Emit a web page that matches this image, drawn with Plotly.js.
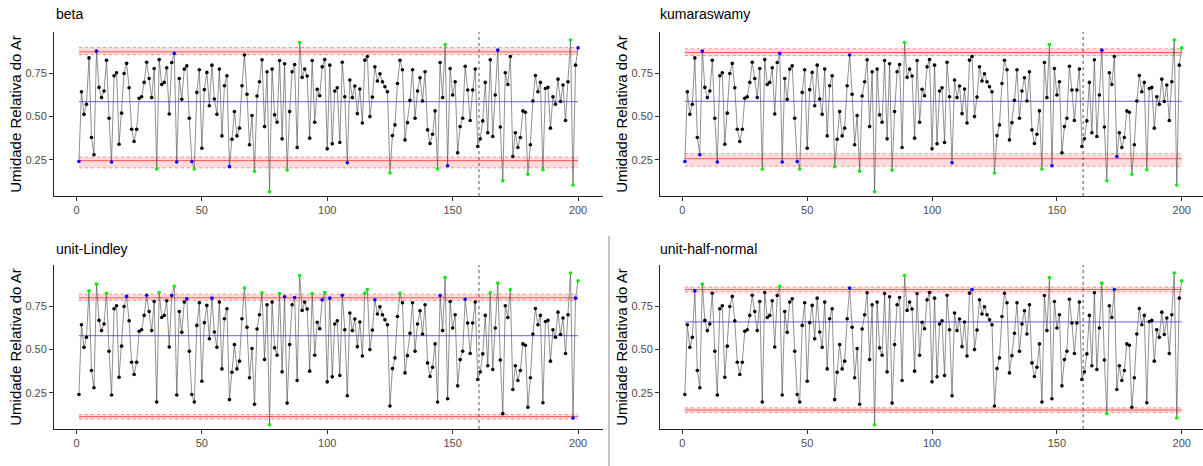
<!DOCTYPE html>
<html>
<head>
<meta charset="utf-8">
<script src="https://cdn.plot.ly/plotly-3.0.1.min.js"></script>
<style>html,body{margin:0;padding:0;background:#fff;}#chart{width:1203px;height:466px;}</style>
</head>
<body>
<div id="chart"></div>
<script>
// ---- data ----
const humidity = [
0.24,0.644,0.513,0.571,0.84,0.379,0.279,0.879,0.669,0.61,
0.648,0.826,0.49,0.237,0.737,0.754,0.34,0.52,0.75,0.808,
0.667,0.427,0.356,0.427,0.606,0.615,0.698,0.815,0.721,0.61,
0.779,0.196,0.83,0.686,0.698,0.783,0.515,0.813,0.866,0.237,
0.721,0.6,0.775,0.794,0.49,0.24,0.196,0.64,0.771,0.317,
0.656,0.756,0.563,0.798,0.602,0.513,0.775,0.388,0.679,0.737,
0.21,0.369,0.529,0.388,0.433,0.679,0.857,0.629,0.337,0.506,
0.183,0.619,0.702,0.829,0.442,0.76,0.065,0.775,0.51,0.467,
0.825,0.371,0.806,0.19,0.529,0.76,0.802,0.321,0.929,0.727,
0.775,0.735,0.375,0.825,0.467,0.658,0.621,0.788,0.83,0.313,
0.798,0.342,0.648,0.667,0.35,0.815,0.615,0.233,0.712,0.61,
0.677,0.517,0.66,0.463,0.827,0.848,0.5,0.613,0.788,0.706,
0.748,0.702,0.673,0.644,0.173,0.39,0.452,0.692,0.826,0.771,
0.365,0.465,0.594,0.771,0.49,0.648,0.725,0.59,0.76,0.423,
0.344,0.398,0.533,0.196,0.813,0.61,0.917,0.215,0.779,0.625,
0.702,0.29,0.442,0.49,0.792,0.654,0.477,0.654,0.775,0.327,
0.371,0.475,0.698,0.406,0.829,0.385,0.625,0.885,0.44,0.129,
0.754,0.686,0.848,0.269,0.406,0.321,0.379,0.533,0.525,0.166,
0.337,0.59,0.738,0.644,0.698,0.192,0.663,0.669,0.433,0.615,
0.571,0.717,0.587,0.683,0.477,0.702,0.944,0.104,0.798,0.898
];
const panelNames = ["beta", "kumaraswamy", "unit-Lindley", "unit-half-normal"];
const centerLine = [0.587, 0.588, 0.581, 0.66];
const upperLimit = [0.875, 0.871, 0.80, 0.848];
const upperBandLow = [0.859, 0.853, 0.785, 0.834];
const upperBandHigh = [0.900, 0.893, 0.821, 0.862];
const lowerLimit = [0.245, 0.256, 0.112, 0.150];
const lowerBandLow = [0.203, 0.212, 0.097, 0.135];
const lowerBandHigh = [0.266, 0.285, 0.124, 0.163];
const splitPoint = 160.5;
const xTicks = [0, 50, 100, 150, 200];
const yTicks = [0.25, 0.50, 0.75];
const yTitle = "Umidade Relativa do Ar";

// ---- build ----
const obs = humidity.map((_, i) => i + 1);
const W = 1203, H = 466;
const xDomains = [[54 / W, 603 / W], [660 / W, 1], [54 / W, 603 / W], [660 / W, 1]];
const xRanges = [[-8.95, 209.95], [-8.95, 208.5], [-8.95, 209.95], [-8.95, 208.5]];
const yDomains = [[1 - 196 / H, 1 - 32 / H], [1 - 196 / H, 1 - 32 / H], [1 - 429 / H, 1 - 265 / H], [1 - 429 / H, 1 - 265 / H]];
const titlePos = [[54, 14], [658, 14], [54, 249], [658, 249]];

const traces = [];
const shapes = [];
const annotations = [];
const layout = {
  width: W, height: H,
  margin: {l: 0, r: 0, t: 0, b: 0},
  paper_bgcolor: "#fff", plot_bgcolor: "#fff",
  showlegend: false,
  font: {family: "Liberation Sans, Arial, sans-serif", color: "#000"}
};

function pointColor(v, p) {
  if (v > upperBandHigh[p] || v < lowerBandLow[p]) return "#00ee00";
  if ((v >= upperBandLow[p] && v <= upperBandHigh[p]) || (v >= lowerBandLow[p] && v <= lowerBandHigh[p])) return "#0000ff";
  return "#000000";
}

panelNames.forEach((name, p) => {
  const sfx = p === 0 ? "" : String(p + 1);
  const xa = "x" + sfx, ya = "y" + sfx;
  const x0 = obs[0], x1 = obs[obs.length - 1];

  // bands
  [[upperBandLow[p], upperBandHigh[p]], [lowerBandLow[p], lowerBandHigh[p]]].forEach(b => {
    shapes.push({type: "rect", xref: xa, yref: ya, x0: x0, x1: x1, y0: b[0], y1: b[1],
      fillcolor: "rgba(255,0,0,0.14)", line: {width: 0}, layer: "below"});
    b.forEach(v => traces.push({type: "scatter", mode: "lines", x: [x0, x1], y: [v, v], xaxis: xa, yaxis: ya,
      line: {color: "rgba(255,0,0,0.4)", width: 1, dash: "dot"}, hoverinfo: "skip"}));
  });
  [upperLimit[p], lowerLimit[p]].forEach(v => traces.push({type: "scatter", mode: "lines", x: [x0, x1], y: [v, v],
    xaxis: xa, yaxis: ya, line: {color: "rgba(255,0,0,0.6)", width: 1}, hoverinfo: "skip"}));
  traces.push({type: "scatter", mode: "lines", x: [x0, x1], y: [centerLine[p], centerLine[p]],
    xaxis: xa, yaxis: ya, line: {color: "rgba(0,0,255,0.5)", width: 1.2}, hoverinfo: "skip"});

  // split line
  shapes.push({type: "line", xref: xa, yref: ya + " domain", x0: splitPoint, x1: splitPoint, y0: 0, y1: 1,
    line: {color: "#555", width: 1, dash: "dot"}});

  // series
  traces.push({type: "scatter", mode: "lines", x: obs, y: humidity, xaxis: xa, yaxis: ya,
    line: {color: "rgba(70,70,70,0.75)", width: 0.8}});
  traces.push({type: "scatter", mode: "markers", x: obs, y: humidity, xaxis: xa, yaxis: ya,
    marker: {size: 3.6, color: humidity.map(v => pointColor(v, p))}});

  layout["xaxis" + sfx] = {
    domain: xDomains[p], range: xRanges[p], anchor: ya,
    showline: true, linecolor: "#222", linewidth: 1, showgrid: false, zeroline: false,
    ticks: "outside", ticklen: 4, tickcolor: "#333", tickvals: xTicks,
    tickfont: {size: 11, color: "#4d4d4d"}
  };
  layout["yaxis" + sfx] = {
    domain: yDomains[p], range: [0.04, 0.99], anchor: xa,
    showline: true, linecolor: "#222", linewidth: 1, showgrid: false, zeroline: false,
    ticks: "outside", ticklen: 4, tickcolor: "#333", tickvals: yTicks, tickformat: ".2f",
    tickfont: {size: 11, color: "#4d4d4d"},
    title: {text: yTitle, font: {size: 15, color: "#000"}, standoff: 0}
  };
  annotations.push({text: name, xref: "paper", yref: "paper", x: titlePos[p][0] / W, y: 1 - titlePos[p][1] / H,
    xanchor: "left", yanchor: "middle", showarrow: false, font: {size: 14, color: "#000"}});
});

shapes.push({type: "line", xref: "paper", yref: "paper", x0: 609 / W, x1: 609 / W, y0: 0, y1: 1 - 236 / H,
  line: {color: "#888", width: 1}});

layout.shapes = shapes;
layout.annotations = annotations;

Plotly.newPlot("chart", traces, layout, {staticPlot: true, displayModeBar: false});
</script>
</body>
</html>
